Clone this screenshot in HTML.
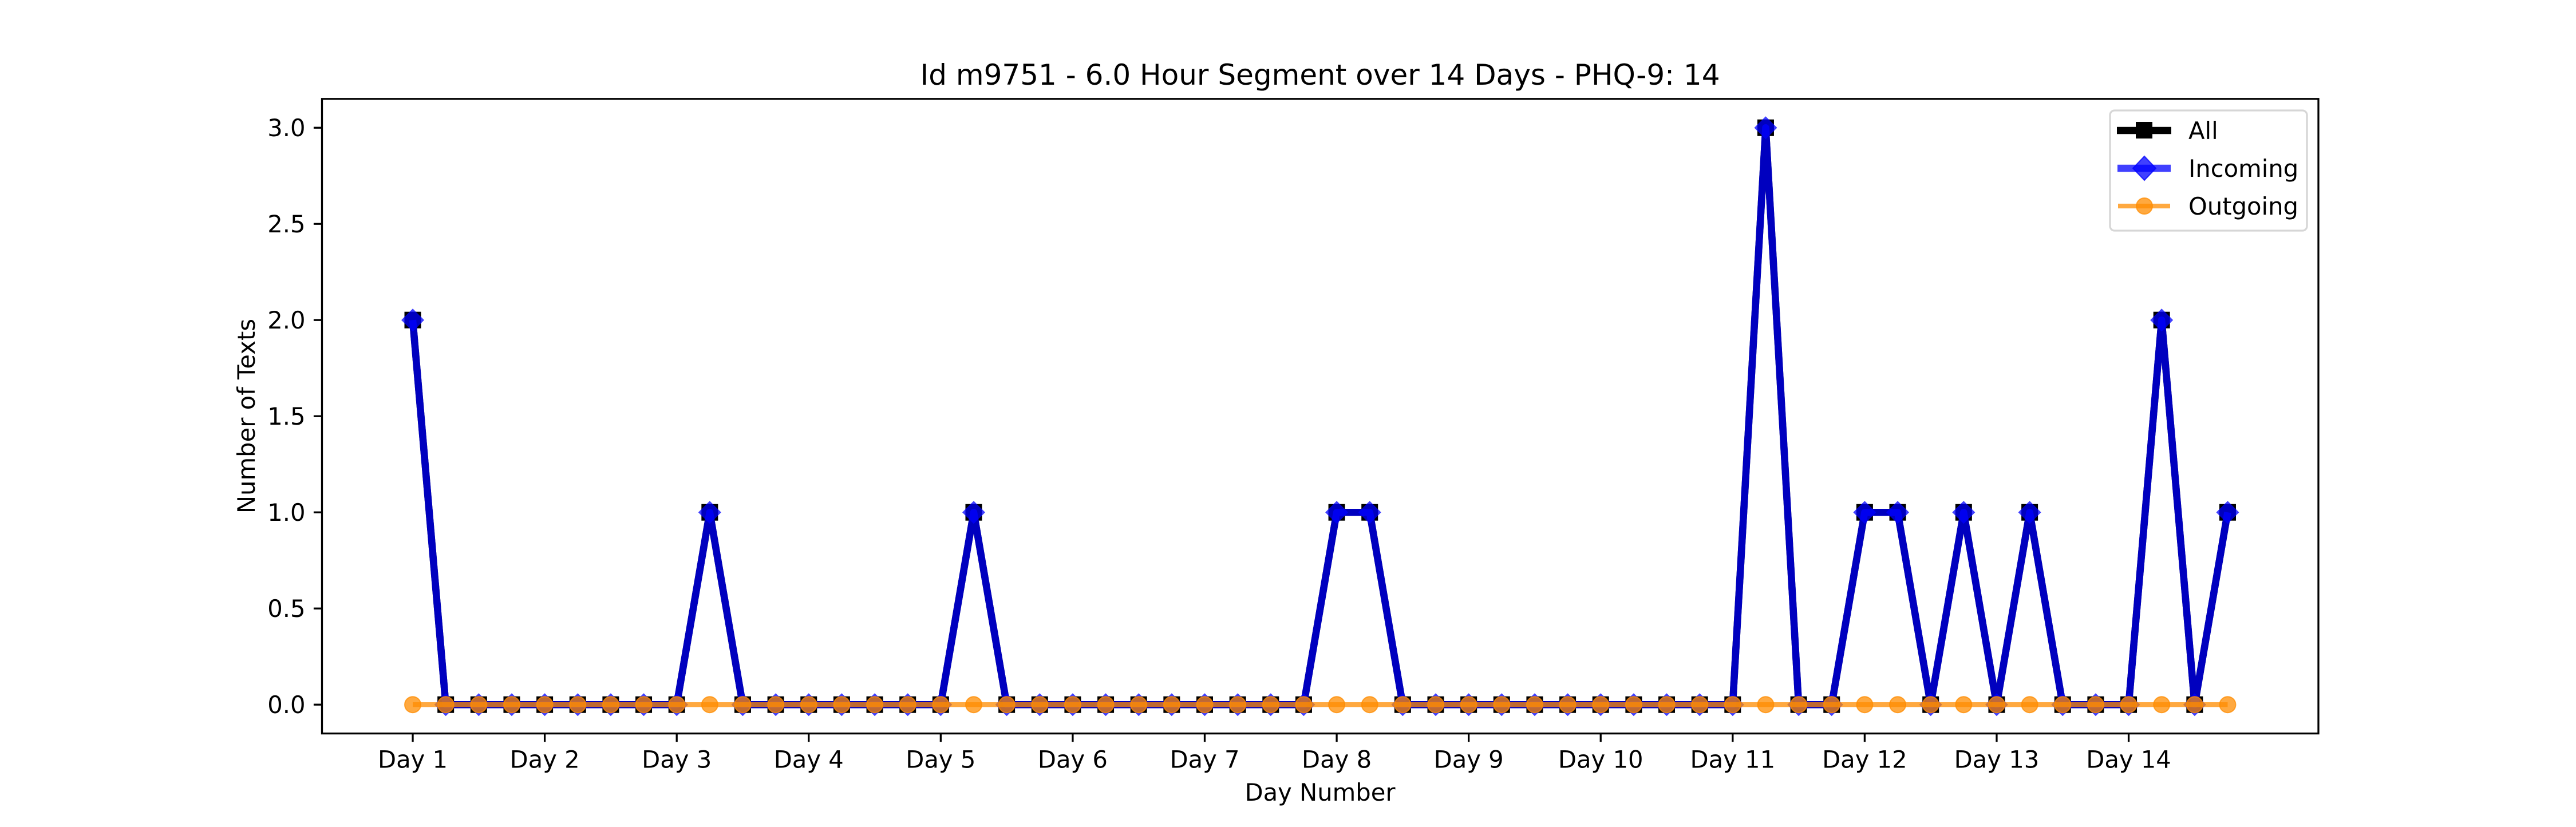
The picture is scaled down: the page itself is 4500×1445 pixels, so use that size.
<!DOCTYPE html>
<html><head><meta charset="utf-8"><style>
html,body{margin:0;padding:0;background:#fff}
svg text{font-family:"DejaVu Sans","Liberation Sans",sans-serif;fill:#000}
</style></head><body>
<svg id="chart" width="4500" height="1440" viewBox="0 0 4500 1440" xmlns="http://www.w3.org/2000/svg">
<rect width="4500" height="1440" fill="#fff"/>
<text x="2306" y="148" font-size="50" text-anchor="middle">Id m9751 - 6.0 Hour Segment over 14 Days - PHQ-9: 14</text>
<g id="yticks"></g><g id="xticks"></g><g id="series"></g>
<rect x="562.5" y="172.8" width="3487.5" height="1108.8" fill="none" stroke="#000" stroke-width="3.3"/>
<text x="2306" y="1399" font-size="41.7" text-anchor="middle">Day Number</text>
<text transform="translate(445,727) rotate(-90)" font-size="41.7" text-anchor="middle">Number of Texts</text>
<g>
<rect x="3686" y="193" width="344" height="210" rx="8" fill="#fff" fill-opacity="0.8" stroke="#d6d6d6" stroke-width="3.3"/>
<g>
<line x1="3698" y1="228" x2="3793" y2="228" stroke="#000" stroke-width="12.5"/>
<rect x="3731" y="213" width="29" height="29" fill="#000"/>
<text x="3823" y="243" font-size="41.7">All</text></g>
<g>
<line x1="3699" y1="294" x2="3792" y2="294" stroke="#0000ff" stroke-opacity="0.75" stroke-width="12.5"/>
<polygon points="3746,273 3766,294 3746,315 3726,294" fill="#0000ff" fill-opacity="0.75" stroke="#0000ff" stroke-opacity="0.75" stroke-width="2"/>
<text x="3823" y="309" font-size="41.7">Incoming</text></g>
<g>
<line x1="3700" y1="360" x2="3791" y2="360" stroke="#ff8c00" stroke-opacity="0.75" stroke-width="8.3"/>
<circle cx="3746" cy="360" r="14" fill="#ff8c00" fill-opacity="0.75" stroke="#ff8c00" stroke-opacity="0.75" stroke-width="2"/>
<text x="3823" y="375" font-size="41.7">Outgoing</text></g>
</g>
</svg>
<script>
const dayLabels = ["Day 1","Day 2","Day 3","Day 4","Day 5","Day 6","Day 7","Day 8","Day 9","Day 10","Day 11","Day 12","Day 13","Day 14"];
const yTickValues = [0,0.5,1,1.5,2,2.5,3];
const yTickLabels = ["0.0","0.5","1.0","1.5","2.0","2.5","3.0"];
const allValues = [2,0,0,0,0,0,0,0,0,1,0,0,0,0,0,0,0,1,0,0,0,0,0,0,0,0,0,0,1,1,0,0,0,0,0,0,0,0,0,0,0,3,0,0,1,1,0,1,0,1,0,0,0,2,0,1];
const incomingValues = [2,0,0,0,0,0,0,0,0,1,0,0,0,0,0,0,0,1,0,0,0,0,0,0,0,0,0,0,1,1,0,0,0,0,0,0,0,0,0,0,0,3,0,0,1,1,0,1,0,1,0,0,0,2,0,1];
const outgoingValues = [0,0,0,0,0,0,0,0,0,0,0,0,0,0,0,0,0,0,0,0,0,0,0,0,0,0,0,0,0,0,0,0,0,0,0,0,0,0,0,0,0,0,0,0,0,0,0,0,0,0,0,0,0,0,0,0];

const NS="http://www.w3.org/2000/svg";
const L=562.5,R=4050,T=172.8,B=1281.6;
const n=allValues.length;
const xmin=-0.05*(n-1), xmax=(n-1)*1.05;
const ymaxData=Math.max(...allValues,...incomingValues,...outgoingValues,0);
const ymin=-0.05*ymaxData, ymax=ymaxData*1.05;
const xs=i=>L+(i-xmin)/(xmax-xmin)*(R-L);
const ys=v=>B-(v-ymin)/(ymax-ymin)*(B-T);
function mk(tag,attrs,parent){const e=document.createElementNS(NS,tag);for(const k in attrs)e.setAttribute(k,attrs[k]);parent.appendChild(e);return e;}

const yt=document.getElementById('yticks');
yTickValues.forEach((v,i)=>{
  const y=ys(v);
  const t=mk('line',{x1:L-14.6,x2:L,y1:y,y2:y,stroke:'#000','stroke-width':3.3},yt);
  
  
  const tx=mk('text',{x:L-29,y:y+15,'font-size':41.7,'text-anchor':'end'},yt);
  tx.textContent=yTickLabels[i];
  
  
});
const xt=document.getElementById('xticks');
dayLabels.forEach((d,i)=>{
  const x=xs(i*4);
  const t=mk('line',{x1:x,x2:x,y1:B,y2:B+14.6,stroke:'#000','stroke-width':3.3},xt);
  
  
  const tx=mk('text',{x:x,y:B+60,'font-size':41.7,'text-anchor':'middle'},xt);
  tx.textContent=d;
  
  
});
const sg=document.getElementById('series');
function pts(vals){return vals.map((v,i)=>xs(i)+','+ys(v)).join(' ');}
const gA=mk('g',{},sg);


mk('polyline',{points:pts(allValues),fill:'none',stroke:'#000','stroke-width':12.5,'stroke-linejoin':'round'},gA);
allValues.forEach((v,i)=>{
  const m=mk('rect',{x:xs(i)-14.5,y:ys(v)-14.5,width:29,height:29,fill:'#000'},gA);
  
  
});
const gI=mk('g',{},sg);


mk('polyline',{points:pts(incomingValues),fill:'none',stroke:'#0000ff','stroke-opacity':0.75,'stroke-width':12.5,'stroke-linejoin':'round'},gI);
incomingValues.forEach((v,i)=>{
  const x=xs(i),y=ys(v);
  const m=mk('polygon',{points:`${x},${y-20} ${x+20},${y} ${x},${y+20} ${x-20},${y}`,fill:'#0000ff','fill-opacity':0.75},gI);
  
  
});
const gO=mk('g',{},sg);


mk('polyline',{points:pts(outgoingValues),fill:'none',stroke:'#ff8c00','stroke-opacity':0.75,'stroke-width':8.3},gO);
outgoingValues.forEach((v,i)=>{
  const m=mk('circle',{cx:xs(i),cy:ys(v),r:14,fill:'#ff8c00','fill-opacity':0.75,stroke:'#ff8c00','stroke-opacity':0.75,'stroke-width':2},gO);
  
  
});
</script>
</body></html>
